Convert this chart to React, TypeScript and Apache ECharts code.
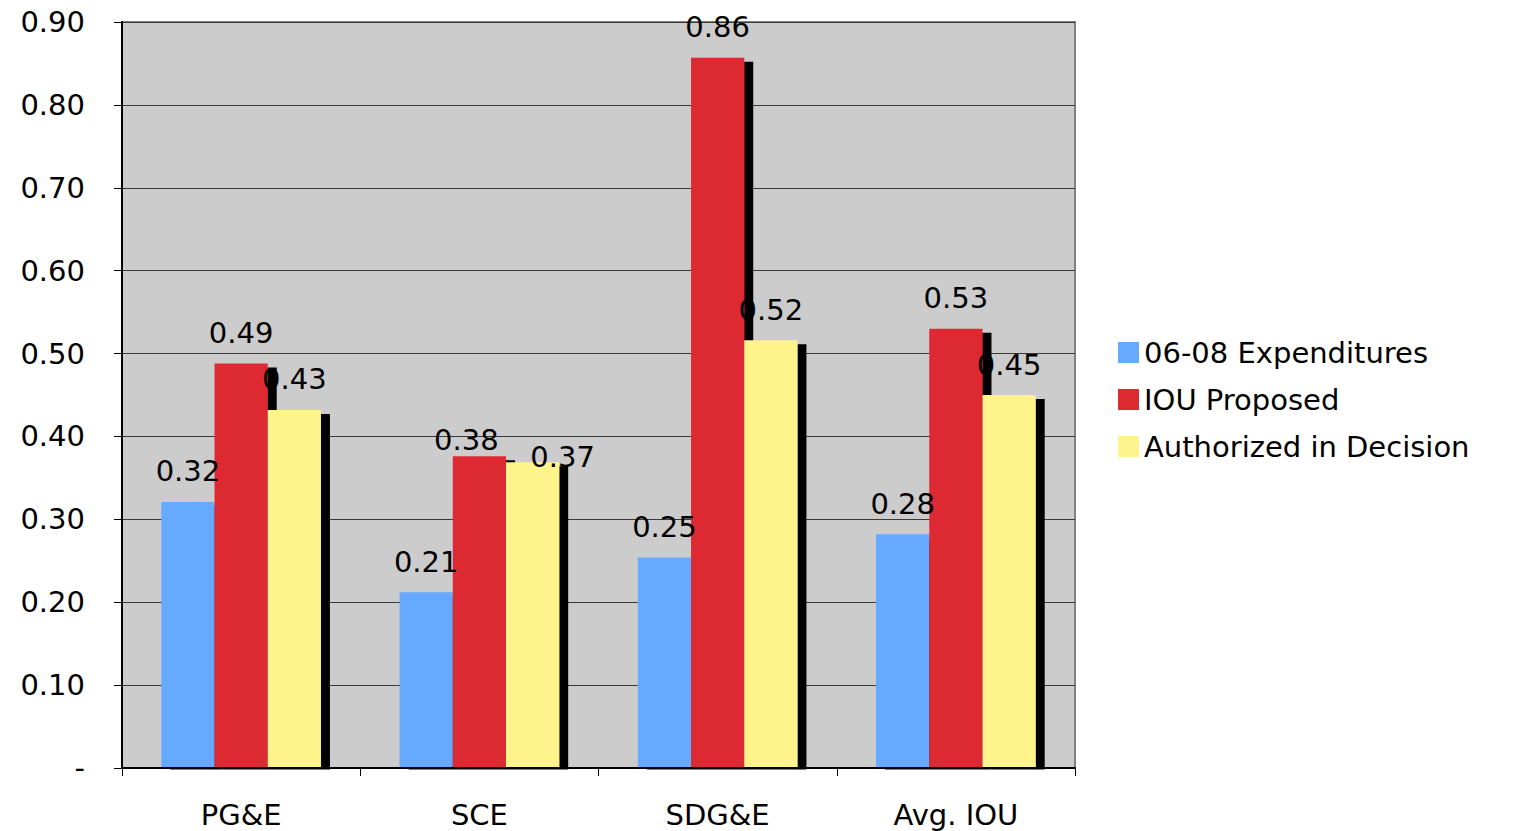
import React, { useEffect, useRef } from "react";
import * as echarts from "echarts";

const categories = ["PG&E", "SCE", "SDG&E", "Avg. IOU"];
const expenditures = [0.321, 0.212, 0.254, 0.282];
const proposed = [0.488, 0.376, 0.857, 0.53];
const authorized = [0.432, 0.369, 0.516, 0.45];
const seriesNames = ["06-08 Expenditures", "IOU Proposed", "Authorized in Decision"];
const colors = ["#66aaff", "#dd2b32", "#fff38c"];

// label nudges (series index -> category index -> [dx, dy]) for labels moved by hand in the original
const labelNudges: Record<string, [number, number]> = {
  "1-1": [-13, 14],
  "2-1": [30, 25],
};

const FONT = "DejaVu Sans";
const FS = 29;

export default function App() {
  const ref = useRef<HTMLDivElement>(null);
  useEffect(() => {
    const chart = echarts.init(ref.current!, null, { renderer: "svg" });
    const data = [expenditures, proposed, authorized];
    chart.setOption({
      animation: false,
      textStyle: { fontFamily: FONT },
      grid: {
        left: 122,
        top: 22,
        width: 953,
        height: 746,
        show: true,
        backgroundColor: "#cccccc",
        borderColor: "#808080",
        borderWidth: 2,
      },
      legend: {
        orient: "vertical",
        left: 1113,
        top: 333,
        itemWidth: 21,
        itemHeight: 21,
        itemGap: 18,
        icon: "rect",
        textStyle: { fontFamily: FONT, fontSize: FS, color: "#000" },
        data: seriesNames,
      },
      graphic: [
        {
          type: "rect",
          z: 5,
          shape: { x: 124, y: 769.5, width: 950, height: 8 },
          style: { fill: "#ffffff" },
        },
      ],
      xAxis: {
        type: "category",
        data: categories,
        z: 10,
        axisLine: { lineStyle: { color: "#000", width: 2 } },
        axisTick: { show: true, length: 8, lineStyle: { color: "#000" } },
        axisLabel: { fontFamily: FONT, fontSize: FS, color: "#000", margin: 32 },
      },
      yAxis: {
        type: "value",
        min: 0,
        max: 0.9,
        interval: 0.1,
        axisLine: { show: true, lineStyle: { color: "#000", width: 2 } },
        axisTick: { show: true, length: 8, lineStyle: { color: "#000" } },
        axisLabel: {
          fontFamily: FONT,
          fontSize: FS,
          color: "#000",
          margin: 37,
          formatter: (v: number) => (v === 0 ? "-" : v.toFixed(2)),
        },
        splitLine: { lineStyle: { color: "#3a3a3a", width: 1 } },
      },
      series: data.map((d, i) => ({
        name: seriesNames[i],
        type: "bar",
        data: d.map((v, j) => {
          const n = labelNudges[`${i}-${j}`];
          return n ? { value: v, label: { offset: n } } : v;
        }),
        barGap: "0%",
        barCategoryGap: "33%",
        itemStyle: {
          color: colors[i],
          shadowColor: i === 0 ? "transparent" : "#000",
          shadowOffsetX: 9,
          shadowOffsetY: 4,
          shadowBlur: 0,
        },
        label: {
          show: true,
          position: "top",
          distance: 16,
          fontFamily: FONT,
          fontSize: FS,
          color: "#000",
          formatter: (p: any) => Number(p.value).toFixed(2),
        },
      })),
    });
    return () => chart.dispose();
  }, []);
  return (
    <div
      ref={ref}
      style={{ position: "absolute", left: 0, top: 0, width: 1517, height: 831 }}
    />
  );
}
